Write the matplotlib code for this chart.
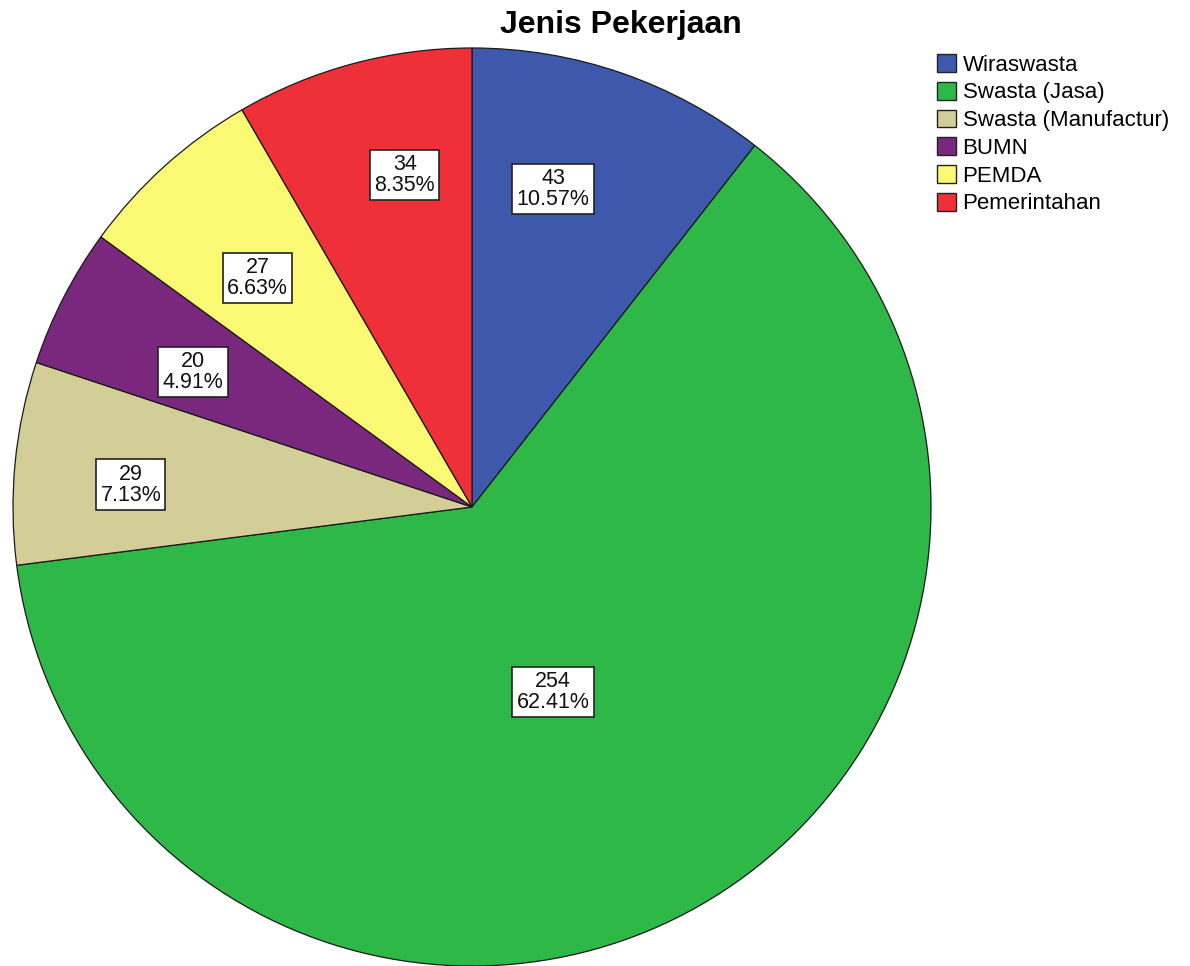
import matplotlib.pyplot as plt
import numpy as np
from matplotlib.patches import Patch

plt.rcParams["font.family"] = ["Liberation Sans", "DejaVu Sans"]

# data
categories = ["Wiraswasta", "Swasta (Jasa)", "Swasta (Manufactur)", "BUMN", "PEMDA", "Pemerintahan"]
counts = [43, 254, 29, 20, 27, 34]
percent_labels = ["10.57%", "62.41%", "7.13%", "4.91%", "6.63%", "8.35%"]
colors = ["#3E58AC", "#2EB848", "#D3CE97", "#79287D", "#FBF873", "#EF3038"]

# label placement: radial fraction and angle tweak (deg) per slice
label_radius = [0.715, 0.44, 0.745, 0.675, 0.683, 0.738]
label_angle_shift = [4.7, -6.0, 1.8, 1.4, 1.1, -3.6]

W, H = 1190, 966
fig = plt.figure(figsize=(W / 100, H / 100), dpi=100)

cx, cy, r = 472, 507, 459
ax = fig.add_axes([(cx - r) / W, (H - cy - r) / H, 2 * r / W, 2 * r / H])

wedges, _ = ax.pie(
    counts,
    colors=colors,
    startangle=90,
    counterclock=False,
    radius=1.0,
    wedgeprops=dict(edgecolor="#1a1a1a", linewidth=0.9),
)
ax.set_xlim(-1, 1)
ax.set_ylim(-1, 1)
ax.set_aspect("equal")
ax.axis("off")

for w, n, pct, rf, shift in zip(wedges, counts, percent_labels, label_radius, label_angle_shift):
    mid = np.deg2rad((w.theta1 + w.theta2) / 2 + shift)
    ax.text(
        rf * np.cos(mid),
        rf * np.sin(mid),
        f"{n}\n{pct}",
        ha="center",
        va="center",
        fontsize=15.5,
        linespacing=1.0,
        color="#111111",
        bbox=dict(boxstyle="square,pad=0.2", facecolor="white", edgecolor="#222222", linewidth=1.2),
    )

fig.text(621 / W, 1 - 25 / H, "Jenis Pekerjaan", ha="center", va="center",
         fontsize=23, fontweight="bold")

handles = [Patch(facecolor=c, edgecolor="#222222", linewidth=1.0) for c in colors]
fig.legend(
    handles,
    categories,
    loc="upper left",
    bbox_to_anchor=(937 / W, 1 - 54 / H),
    frameon=False,
    fontsize=16,
    handlelength=0.85,
    handleheight=0.85,
    handletextpad=0.3,
    labelspacing=0.28,
    borderpad=0,
    borderaxespad=0,
)

fig.savefig("out.png", dpi=100)
